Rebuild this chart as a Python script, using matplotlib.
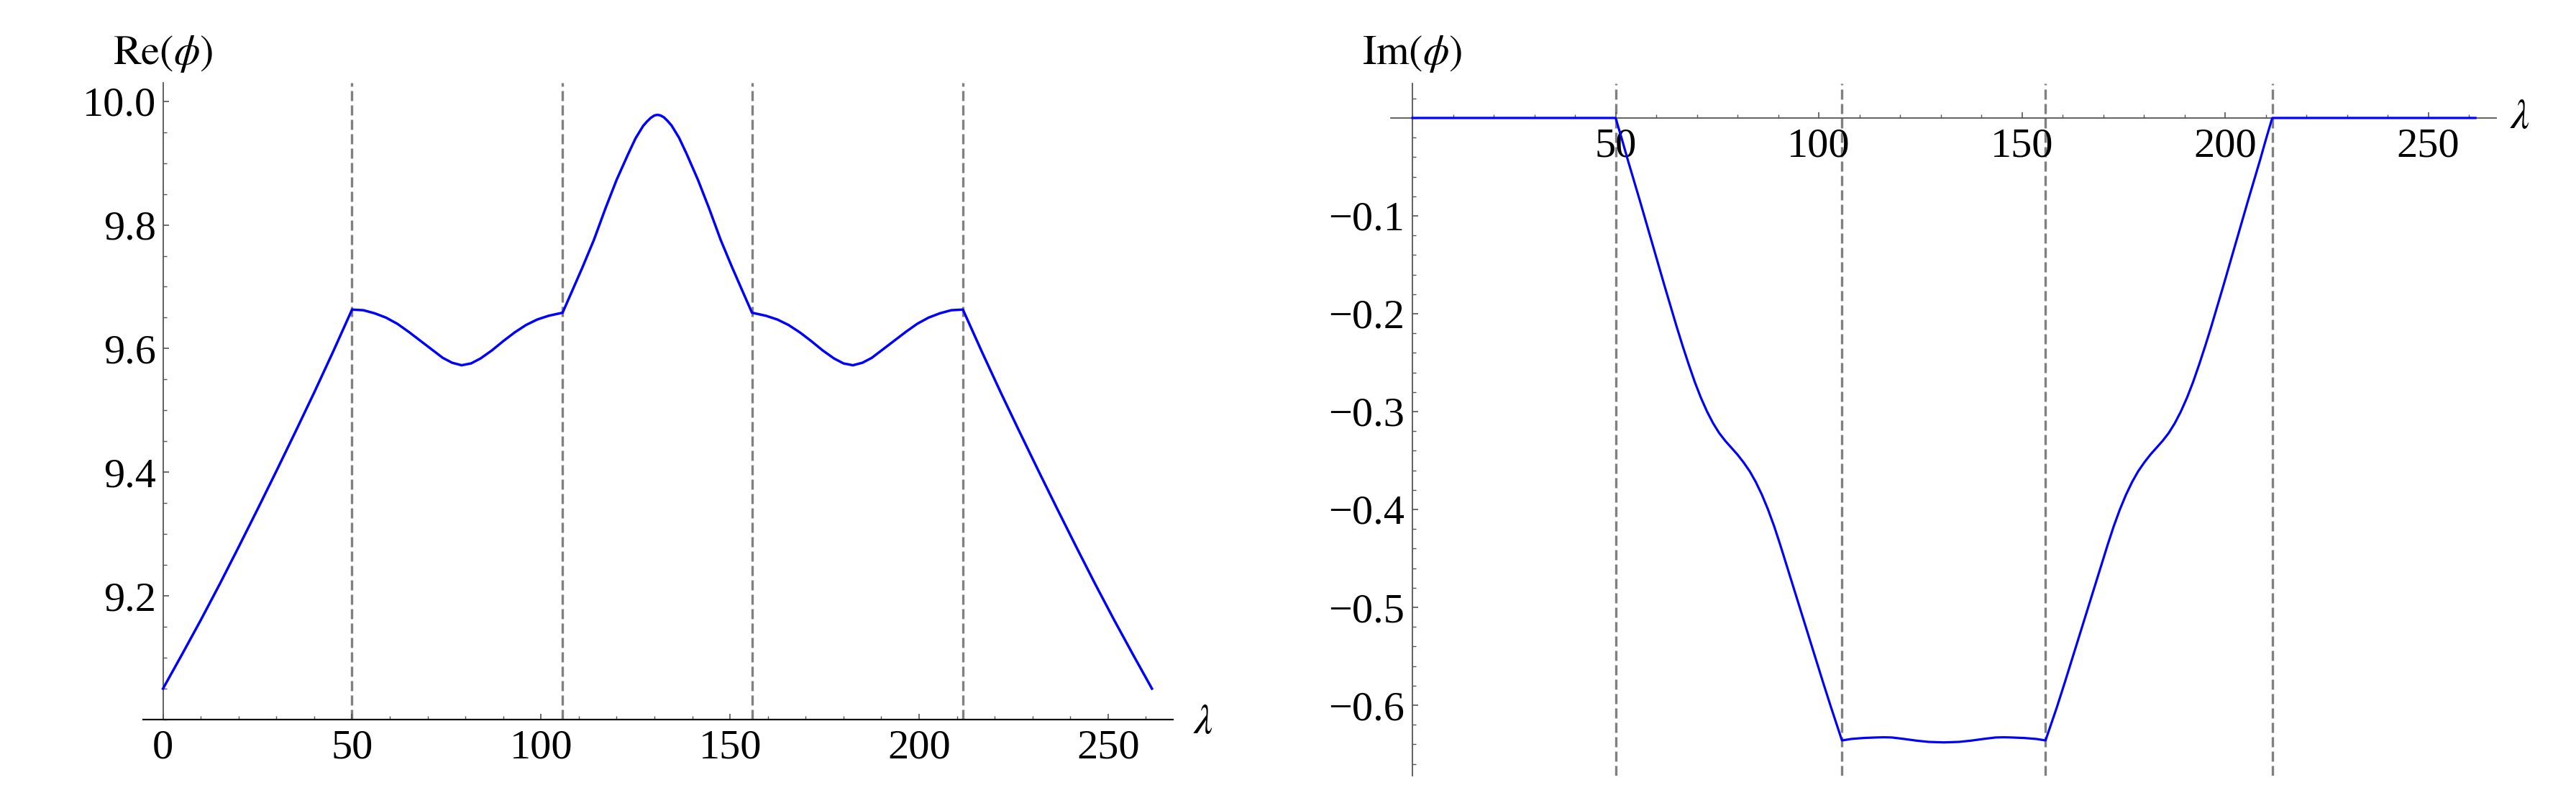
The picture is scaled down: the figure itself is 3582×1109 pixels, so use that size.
import matplotlib
matplotlib.use('Agg')
import matplotlib.pyplot as plt
from matplotlib.ticker import FixedLocator, MultipleLocator

plt.rcParams['font.family'] = ['Liberation Serif', 'DejaVu Serif']
plt.rcParams['mathtext.fontset'] = 'stix'

# Re(phi)
lam_re = [0, 5, 10, 15, 20, 25, 30, 35, 40, 45, 50,
          53, 56, 59, 62, 65, 68, 71, 74, 76.5, 79, 81.5, 84, 87, 90, 93, 96, 99, 102, 105.7,
          108, 111, 114, 117, 120, 123, 125, 127, 128, 129, 130, 130.8, 131.6, 132.5, 133.5,
          134.5, 136.5, 138.5, 141.5, 144.5, 147.5, 150.5, 153.5, 155.8,
          159.5, 162.5, 165.5, 168.5, 171.5, 174.5, 177.5, 180, 182.5, 185, 187.5, 190.5,
          193.5, 196.5, 199.5, 202.5, 205.5, 208.5, 211.6,
          216.6, 221.6, 226.6, 231.6, 236.6, 241.6, 246.6, 251.6, 256.6, 261.6]
re_phi = [9.050, 9.105, 9.161, 9.219, 9.279, 9.340, 9.402, 9.465, 9.529, 9.595, 9.663,
          9.662, 9.657, 9.650, 9.640, 9.627, 9.613, 9.599, 9.585, 9.577, 9.573, 9.576, 9.584,
          9.597, 9.612, 9.626, 9.638, 9.647, 9.653, 9.658,
          9.690, 9.732, 9.776, 9.826, 9.873, 9.914, 9.940, 9.960, 9.967, 9.973, 9.977, 9.978,
          9.977, 9.974, 9.968, 9.961, 9.941, 9.915, 9.873, 9.826, 9.776, 9.732, 9.690, 9.658,
          9.653, 9.647, 9.638, 9.626, 9.612, 9.597, 9.584, 9.576, 9.573, 9.577, 9.585, 9.599,
          9.613, 9.627, 9.640, 9.650, 9.657, 9.662, 9.663,
          9.595, 9.529, 9.465, 9.402, 9.340, 9.279, 9.219, 9.161, 9.105, 9.050]

# Im(phi)
lam_im = [0, 25, 50, 51.5, 53, 56, 59, 62, 65, 66.5, 68, 69.5, 71, 72.5, 74, 75.5, 77, 78.5,
          80, 81.5, 83, 84.5, 86, 87.5, 89, 90.5, 92, 95, 98, 101, 103, 105.7,
          108, 111, 114, 116, 118, 121, 124, 127, 130.8, 134.5, 137.5, 140.5, 143.5, 145.5, 147.5,
          150.5, 153.5, 155.8,
          158.6, 160.6, 163.6, 166.6, 169.6, 171.1, 172.6, 174.1, 175.6, 177.1, 178.6, 180.1,
          181.6, 183.1, 184.6, 186.1, 187.6, 189.1, 190.6, 192.1, 193.6, 195.1, 196.6, 199.6,
          202.6, 205.6, 208.6, 210.1, 211.6, 236.6, 261.6]
im_phi = [0, 0, 0, -0.021, -0.043, -0.085, -0.128, -0.171, -0.213, -0.233, -0.252, -0.270,
          -0.286, -0.300, -0.312, -0.322, -0.330, -0.337, -0.344, -0.352, -0.361, -0.372,
          -0.385, -0.400, -0.417, -0.436, -0.456, -0.496, -0.536, -0.576, -0.602, -0.636,
          -0.6345, -0.6335, -0.633, -0.6328, -0.633, -0.6345, -0.6362, -0.6375, -0.638, -0.6375,
          -0.6362, -0.6345, -0.633, -0.6328, -0.633, -0.6335, -0.6345, -0.636,
          -0.602, -0.576, -0.536, -0.496, -0.456, -0.436, -0.417, -0.400, -0.385, -0.372,
          -0.361, -0.352, -0.344, -0.337, -0.330, -0.322, -0.312, -0.300, -0.286, -0.270,
          -0.252, -0.233, -0.213, -0.171, -0.128, -0.085, -0.043, -0.021, 0, 0, 0]

# posisi garis putus-putus
lam_breaks = [50, 105.7, 155.8, 211.6]

re_yticks = [9.2, 9.4, 9.6, 9.8, 10.0]
re_yticklabels = ['9.2', '9.4', '9.6', '9.8', '10.0']
re_xticks = [0, 50, 100, 150, 200, 250]
re_xticklabels = ['0', '50', '100', '150', '200', '250']
im_yticks = [-0.1, -0.2, -0.3, -0.4, -0.5, -0.6]
im_yticklabels = ['\u22120.1', '\u22120.2', '\u22120.3', '\u22120.4', '\u22120.5', '\u22120.6']
im_xticks = [50, 100, 150, 200, 250]
im_xticklabels = ['50', '100', '150', '200', '250']

fs = 42
axcol = '#555555'

fig = plt.figure(figsize=(35.82, 11.09), dpi=100)
ax1 = fig.add_axes([0.0555, 0.0983, 0.3999, 0.7981])
ax2 = fig.add_axes([0.5398, 0.0280, 0.4292, 0.8671])

# panel kiri: Re(phi)
for b in lam_breaks:
    ax1.axvline(b, color='#808080', lw=2.4, linestyle=(0, (4.2, 1.8)), zorder=1)
ax1.plot(lam_re, re_phi, color='#0000ff', lw=2.5, zorder=3)
ax1.set_xlim(-5.3, 267.2)
ax1.set_ylim(9.0, 10.03)
ax1.spines['top'].set_visible(False)
ax1.spines['right'].set_visible(False)
ax1.spines['left'].set_position(('data', 0))
ax1.spines['left'].set_color(axcol)
ax1.spines['left'].set_linewidth(1.3)
ax1.spines['bottom'].set_color('#111111')
ax1.spines['bottom'].set_linewidth(1.6)
ax1.xaxis.set_major_locator(FixedLocator(re_xticks))
ax1.set_xticklabels(re_xticklabels)
ax1.xaxis.set_minor_locator(MultipleLocator(10))
ax1.yaxis.set_major_locator(FixedLocator(re_yticks))
ax1.set_yticklabels(re_yticklabels)
ax1.yaxis.set_minor_locator(MultipleLocator(0.05))
ax1.tick_params(which='both', direction='in', color=axcol, labelsize=fs)
ax1.tick_params(which='major', length=6, width=1.2)
ax1.tick_params(which='minor', length=3.5, width=1.0)
ax1.tick_params(axis='x', pad=10)
ax1.tick_params(axis='y', pad=7)
ax1.text(0, 1.029, r'$\mathrm{Re}(\phi)$', transform=ax1.get_xaxis_transform(),
         ha='center', va='baseline', fontsize=fs)
ax1.text(1.0195, -0.006, r'$\lambda$', transform=ax1.transAxes,
         ha='left', va='center', fontsize=fs)

# panel kanan: Im(phi)
for b in lam_breaks:
    ax2.axvline(b, color='#808080', lw=2.4, linestyle=(0, (4.2, 1.8)), zorder=1)
ax2.plot(lam_im, im_phi, color='#0000ff', lw=2.3, zorder=3)
ax2.set_xlim(-5.4, 266.7)
ax2.set_ylim(-0.672, 0.035)
ax2.spines['top'].set_visible(False)
ax2.spines['right'].set_visible(False)
ax2.spines['left'].set_position(('data', 0))
ax2.spines['bottom'].set_position(('data', 0))
for s in ['left', 'bottom']:
    ax2.spines[s].set_color(axcol)
    ax2.spines[s].set_linewidth(1.3)
ax2.xaxis.set_major_locator(FixedLocator(im_xticks))
ax2.set_xticklabels(im_xticklabels)
ax2.xaxis.set_minor_locator(MultipleLocator(10))
ax2.yaxis.set_major_locator(FixedLocator(im_yticks))
ax2.set_yticklabels(im_yticklabels)
ax2.yaxis.set_minor_locator(MultipleLocator(0.02))
ax2.tick_params(which='both', direction='in', color=axcol, labelsize=fs)
ax2.tick_params(which='major', length=6, width=1.2)
ax2.tick_params(which='minor', length=3.5, width=1.0)
ax2.tick_params(axis='x', pad=10)
ax2.tick_params(axis='y', pad=8)
ax2.text(0, 1.0285, r'$\mathrm{Im}(\phi)$', transform=ax2.get_xaxis_transform(),
         ha='center', va='baseline', fontsize=fs)
ax2.text(1.0124, 0, r'$\lambda$', transform=ax2.get_yaxis_transform(),
         ha='left', va='center', fontsize=fs)

fig.savefig('out.png', dpi=100)
